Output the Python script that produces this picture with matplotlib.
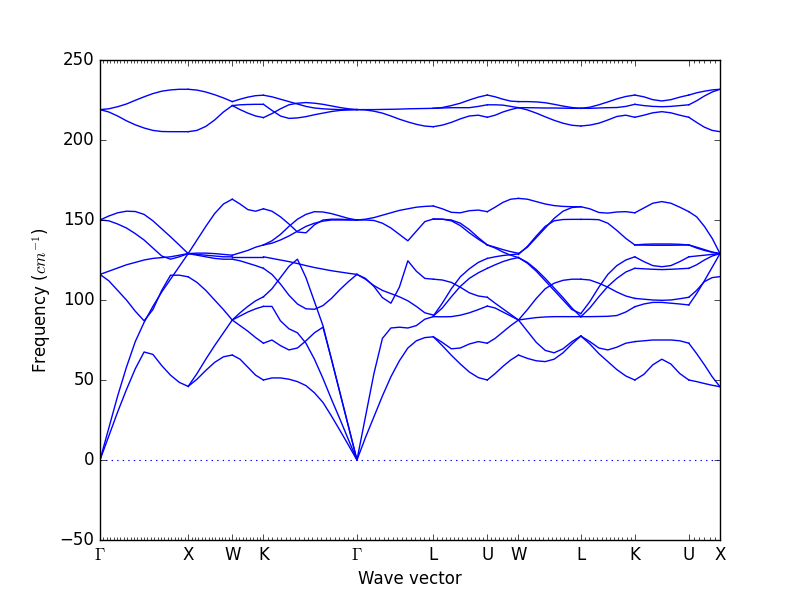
import numpy as np
import matplotlib.pyplot as plt

plt.style.use('classic')

labels = [r'$\Gamma$', 'X', 'W', 'K', r'$\Gamma$', 'L', 'U', 'W', 'L', 'K', 'U', 'X']
seg_lengths = [1.0, 0.5, 0.3536, 1.0607, 0.8660, 0.6124, 0.3536, 0.7071, 0.6124, 0.6124, 0.3536]
# q-point ticks per segment (none drawn on K-U)
seg_ticks = [26, 13, 9, 21, 17, 13, 8, 15, 13, 0, 6]

# frequencies (cm^-1), each band read at evenly spaced points along its segment
GX = [
    [0, 15, 30, 44, 57, 67.5, 66, 59, 53, 48.5, 46],
    [0, 20, 40, 58, 74, 86, 96, 105, 113, 121, 129],
    [116, 112, 106, 100, 93, 87, 94, 106, 115.5, 115.5, 114.5],
    [116, 118, 120, 122, 123.5, 125, 126, 126.5, 127, 128, 129],
    [150, 152.5, 154.5, 155.5, 155.3, 153.5, 149.5, 144.5, 139.5, 134.3, 129],
    [150, 149.5, 147.5, 145, 141.5, 137.5, 132.5, 127.5, 125.5, 127, 129],
    [219, 219.5, 220.8, 222.5, 224.8, 227, 229, 230.5, 231.3, 231.7, 231.7],
    [219, 217.5, 215, 212, 209.5, 207.5, 206, 205.3, 205.2, 205.2, 205.2],
]
XW = [
    [231.7, 231.2, 230, 228.3, 226.3, 224],
    [205.2, 206, 208.5, 212.5, 217.5, 221.5],
    [129, 137.5, 146, 154, 160, 163],
    [129, 128.5, 128, 127.5, 127, 127],
    [129, 128, 127, 126, 125.5, 125.5],
    [129, 129.3, 129.3, 129, 128.5, 128],
    [114.5, 111, 106, 100, 94, 87.5],
    [46, 50.5, 56, 61, 64.5, 65.6],
    [46, 54, 63, 71.5, 79.5, 87.5],
]
WK = [
    [224, 225.5, 226.8, 227.7, 228],
    [221.5, 222, 222.2, 222.3, 222.3],
    [221.5, 219, 216.8, 215, 214],
    [163, 160, 156.5, 155.5, 157],
    [128, 129.5, 131, 133, 134.4],
    [127, 127, 127, 127, 127],
    [125.5, 124.5, 123, 121.5, 119.8],
    [87.5, 92, 96, 99.5, 102],
    [87.5, 90, 92.5, 94.5, 96],
    [87.5, 84, 80.5, 76.5, 73],
    [65.6, 63, 58, 53, 50],
]
KG = [
    [228, 227, 225.5, 224, 222.5, 221, 220, 219.5, 219.2, 219, 219, 219],
    [222.3, 218.5, 215, 213.5, 213.8, 214.6, 215.8, 216.8, 217.8, 218.5, 218.8, 219],
    [214, 216.5, 219.5, 222, 223, 223.4, 223, 222.3, 221.3, 220.3, 219.5, 219],
    [157, 155.5, 152, 147.5, 142.5, 142, 147, 150, 150.5, 150.5, 150.2, 150],
    [134.4, 137, 141, 146, 150.5, 153.5, 155.2, 155, 154, 152.5, 151, 150],
    [134.4, 135.5, 137.5, 140, 143, 146, 148, 149.3, 150, 150, 150, 150],
    [127, 126, 125, 124, 122.8, 121.5, 120.3, 119.3, 118.3, 117.5, 116.7, 116],
    [119.8, 116, 110, 103, 97.5, 94.5, 94.2, 96.5, 101, 106.5, 111.5, 116],
    [102, 107, 114, 121, 125.5, 114, 99, 84, 63, 42, 21, 0],
    [96, 96, 87, 82, 79.5, 73, 63, 51, 38, 25.5, 12.7, 0],
    [73, 75, 71.5, 68.8, 70, 74.5, 79.5, 83, 63, 42, 21, 0],
    [50, 51.3, 51.3, 50.5, 49, 46.5, 42, 36, 27.5, 18.5, 9.3, 0],
]
GL = [
    [219, 219, 219, 219.1, 219.2, 219.3, 219.5, 219.6, 219.7, 219.8],
    [219, 218.8, 218, 216.8, 215, 213, 211.3, 209.8, 208.7, 208.3],
    [150, 150.5, 151.5, 153, 154.5, 156, 157, 158, 158.5, 158.75],
    [150, 150, 149.7, 148, 145, 141, 137, 143, 149, 150.6],
    [116, 113.5, 108.5, 101.5, 98, 108, 124.5, 118, 113.5, 113],
    [116, 113, 109, 106, 104, 102, 99.5, 96, 92, 90.6],
    [0, 27, 54, 76, 82.5, 83, 82.5, 84, 88, 89.6],
    [0, 14, 27, 40, 52, 62, 70, 74.5, 76.5, 77],
]
LU = [
    [219.8, 220.3, 221.5, 223, 225, 226.8, 228.1],
    [219.8, 220, 220.2, 220.2, 220.2, 221, 222],
    [208.3, 209.3, 211, 213.2, 215, 215.5, 214.2],
    [158.75, 157, 154.8, 154.5, 155.8, 156.2, 155.2],
    [150.6, 150.5, 150, 148, 144, 139, 134.4],
    [150.6, 150.5, 149.5, 146.5, 142, 138, 134.4],
    [113, 112.5, 111, 108, 104.5, 102.5, 101.7],
    [89.6, 89.5, 89.6, 90.5, 92, 94, 96.2],
    [90, 98, 107, 114.5, 119.5, 123.5, 126],
    [90, 95, 102, 108.5, 113.5, 117, 119.8],
    [77, 73.5, 69.5, 70, 72.5, 74, 73],
    [77, 71.5, 65.5, 60, 55, 51.5, 50],
]
UW = [
    [228.1, 227, 225.5, 224.3, 224],
    [222, 222, 221.8, 221, 220.2],
    [214.2, 215.5, 217.5, 219, 220.2],
    [155.2, 158, 161, 163, 163.5],
    [134.4, 133, 131.5, 130.2, 129.2],
    [134.4, 132.5, 130, 128, 126.5],
    [126, 127, 127.8, 128.3, 128.75],
    [119.8, 122, 124, 125.5, 126.5],
    [101.7, 98, 94.5, 91, 87.5],
    [96.2, 95, 92.5, 90, 87.5],
    [73, 76, 80, 84, 87.5],
    [50, 54, 58.5, 62.5, 65.6],
]
WL = [
    [224, 224, 223.8, 223.3, 222.3, 221.2, 220.3, 219.8],
    [220.2, 220.2, 220.1, 220, 220, 219.9, 219.8, 219.8],
    [220.2, 218.8, 216.8, 214.5, 212.3, 210.5, 209.2, 208.75],
    [163.5, 163, 161.5, 160, 159, 158.5, 158.3, 158.3],
    [129, 133, 139, 145, 151, 155.5, 157.8, 158.3],
    [128.5, 133.5, 140, 146, 149.5, 150.3, 150.4, 150.4],
    [126.5, 123, 118, 112, 106, 100, 94, 91.5],
    [126.5, 123.5, 119, 113.5, 107.5, 101.5, 95, 89.5],
    [87.5, 88.3, 89, 89.4, 89.6, 89.6, 89.6, 89.6],
    [87.5, 94, 101, 107, 110.5, 112.3, 113, 113],
    [87.5, 80.5, 73.5, 68.5, 67, 69.5, 74, 77.5],
    [65.6, 63.5, 62, 61.5, 63, 67, 72.5, 77.5],
]
LK = [
    [219.8, 220.5, 222, 223.8, 225.7, 227.2, 228.1],
    [219.8, 219.8, 220, 220.2, 220.3, 221, 222.3],
    [208.75, 209.3, 210.5, 212.5, 214.7, 215.5, 214.2],
    [158.3, 157, 154.7, 154.3, 155, 155.2, 154.5],
    [150.4, 150.4, 150.2, 148, 143.5, 138.5, 134.4],
    [91.5, 99, 108, 116, 121.5, 125, 127],
    [89.5, 95, 102, 108.5, 113.5, 117.5, 119.8],
    [113, 112.5, 110.5, 108, 105, 102.5, 101],
    [89.6, 89.6, 89.7, 89.8, 90.3, 92.5, 95.8],
    [77.5, 74, 70, 68.8, 70.5, 73, 74],
    [77.5, 72.5, 66.5, 61.5, 56.5, 52.5, 50],
]
KU = [
    [228.1, 227, 225.2, 224.4, 225.2, 226.8, 228.1],
    [222.3, 221.5, 221, 220.8, 221, 221.5, 222],
    [214.2, 215.5, 217, 217.7, 217, 215.5, 214.2],
    [154.5, 157.5, 160.5, 161.5, 160.5, 158, 155.2],
    [134.4, 134.8, 135, 135, 135, 134.8, 134.4],
    [134.4, 134.3, 134.2, 134.2, 134.2, 134.3, 134.4],
    [127, 124, 121.5, 120.8, 121.5, 124, 127],
    [119.8, 119.5, 119.2, 119, 119.2, 119.5, 119.8],
    [101, 100.5, 100, 99.8, 100, 100.8, 101.7],
    [95.8, 97.5, 98.5, 98.5, 98, 97.5, 96.9],
    [74, 74.5, 75, 75, 75, 74.5, 73],
    [50, 53.5, 59.5, 63, 60, 54, 50],
]
UX = [
    [228.1, 229.5, 230.5, 231.3, 231.7],
    [222, 224.5, 227.5, 230, 231.7],
    [214.2, 211, 208, 206, 205.2],
    [155.2, 152, 146, 138.5, 129],
    [134.4, 133, 131.5, 130, 129],
    [134.4, 132.5, 131, 129.8, 129],
    [127, 127.5, 128, 128.5, 129],
    [119.8, 122, 125, 127.5, 129],
    [101.7, 106, 111.5, 114, 114.6],
    [96.9, 104, 112, 120.5, 129],
    [73, 66.5, 59.5, 52, 45.8],
    [50, 49, 47.8, 46.7, 45.8],
]
segments = [GX, XW, WK, KG, GL, LU, UW, WL, LK, KU, UX]

fig, ax = plt.subplots(figsize=(8, 6), dpi=100)

start = 0.0
minor = []
for length, bands, nt in zip(seg_lengths, segments, seg_ticks):
    for band in bands:
        q = np.linspace(start, start + length, len(band))
        ax.plot(q, band, color='b', lw=1)
    if nt:
        minor.extend(np.linspace(start, start + length, nt + 1)[1:-1])
    start += length

sym_pos = np.concatenate([[0], np.cumsum(seg_lengths)])
ax.axhline(0, color='b', ls=':', lw=0.8)

ax.set_xlim(0, sym_pos[-1])
ax.set_ylim(-50, 250)
ax.set_xticks(sym_pos)
ax.set_xticklabels(labels)
ax.set_xticks(minor, minor=True)
ax.set_xlabel('Wave vector')
ax.set_ylabel(r'Frequency ($cm^{-1}$)')

fig.savefig('out.png')
